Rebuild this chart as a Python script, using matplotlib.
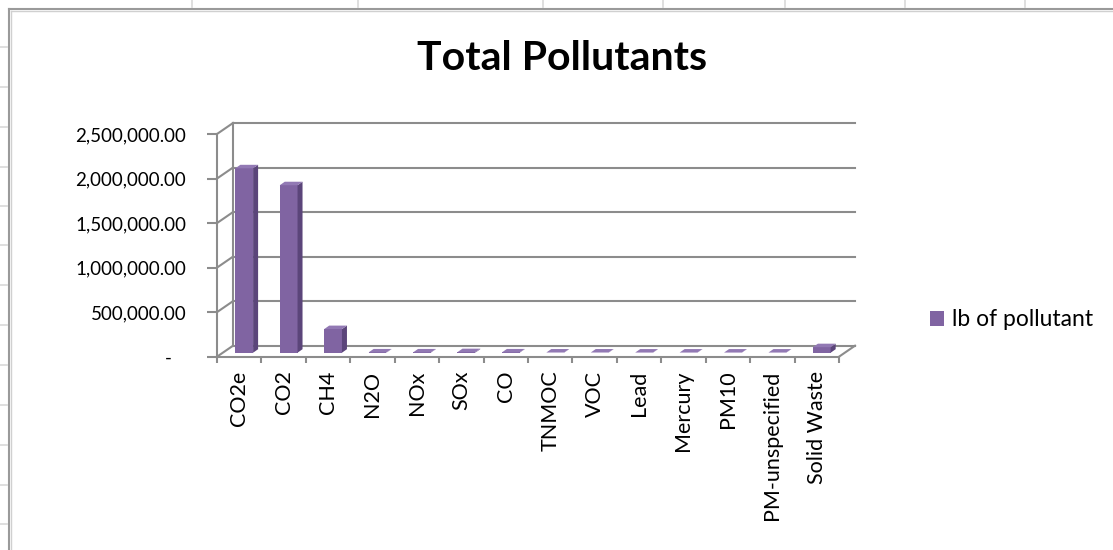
import numpy as np
import matplotlib.pyplot as plt
from matplotlib.patches import Polygon
from matplotlib.lines import Line2D
from matplotlib.ticker import FuncFormatter

plt.rcParams['font.family'] = ['Lato', 'DejaVu Sans']

# ---------- data ----------
categories = ["CO2e", "CO2", "CH4", "N2O", "NOx", "SOx", "CO", "TNMOC",
              "VOC", "Lead", "Mercury", "PM10", "PM-unspecified", "Solid Waste"]
pollutant_lb = [2070000, 1880000, 265000, 3000, 3000, 6000, 3000, 2000,
                2000, 1500, 1500, 1500, 1500, 62000]
series_name = "lb of pollutant"
y_ticks = [0, 500000, 1000000, 1500000, 2000000, 2500000]

# ---------- style ----------
W, H = 1113, 550
FRONT = '#8064A2'
SIDE = '#5B457A'
TOP = '#9279B4'
GRID = '#8C8C8C'
SHEET = '#D9D9D9'

fig = plt.figure(figsize=(W / 100, H / 100), dpi=100)
ax = fig.add_axes([217 / W, (H - 356.7) / H, 622 / W, 222.7 / H])
ax.set_xlim(-0.5, len(categories) - 0.5)
ax.set_ylim(0, 2500000)
ax.patch.set_visible(False)


def px_to_data(dx, dy):
    # pixel offset -> data offset (linear scales)
    x0, y0 = ax.transData.inverted().transform((0, 0))
    x1, y1 = ax.transData.inverted().transform((dx, dy))
    return x1 - x0, y1 - y0


Dx, Dy = px_to_data(16, 11)     # back wall depth
Fx, Fy = px_to_data(5, 4)       # bar front face position
Bx, By = px_to_data(5, 3.5)     # bar depth

xl, xr = ax.get_xlim()
line_kw = dict(color=GRID, lw=1.5, clip_on=False, zorder=1)

# back wall gridlines + left wall diagonals
for y in y_ticks:
    ax.plot([xl + Dx, xr + Dx], [y + Dy, y + Dy], **line_kw)
    ax.plot([xl, xl + Dx], [y, y + Dy], **line_kw)
ax.plot([xl + Dx, xl + Dx], [Dy, y_ticks[-1] + Dy], **line_kw)
ax.plot([xr, xr + Dx], [0, Dy], **line_kw)

# bars
x = np.arange(len(categories))
bw = 0.4
bars = ax.bar(x + Fx, pollutant_lb, width=bw, bottom=Fy, color=FRONT,
              edgecolor='none', zorder=3, label=series_name)
for xi, v in zip(x, pollutant_lb):
    x0, x1 = xi + Fx - bw / 2, xi + Fx + bw / 2
    y0, y1 = Fy, Fy + v
    ax.add_patch(Polygon([(x1, y0), (x1 + Bx, y0 + By), (x1 + Bx, y1 + By), (x1, y1)],
                         closed=True, facecolor=SIDE, edgecolor='none', zorder=3))
    ax.add_patch(Polygon([(x0, y1), (x1, y1), (x1 + Bx, y1 + By), (x0 + Bx, y1 + By)],
                         closed=True, facecolor=TOP, edgecolor='none', zorder=3))

# front axes
for s in ['top', 'right']:
    ax.spines[s].set_visible(False)
for s in ['left', 'bottom']:
    ax.spines[s].set_color(GRID)
    ax.spines[s].set_linewidth(1.5)
    ax.spines[s].set_zorder(4)

ax.set_yticks(y_ticks)
ax.yaxis.set_major_formatter(FuncFormatter(lambda v, p: '-   ' if v == 0 else f'{v:,.2f}'))
ax.tick_params(axis='y', length=7.2, width=1.5, color=GRID, pad=15, labelsize=13.5)

ax.set_xticks(x)
ax.set_xticklabels(categories, rotation=90)
ax.set_xticks(np.arange(-0.5, len(categories), 1), minor=True)
ax.tick_params(axis='x', which='major', length=0, pad=10, labelsize=15.5)
ax.tick_params(axis='x', which='minor', length=4.5, width=1.5, color=GRID)

# title and legend
fig.text(562 / W, 1 - 58 / H, "Total Pollutants", ha='center', va='center',
         fontsize=29.5, fontweight='bold')
ax.legend(loc='center left', bbox_to_anchor=(930 / W, 1 - 320 / H),
          bbox_transform=fig.transFigure, frameon=False, fontsize=16.5,
          handlelength=0.62, handleheight=0.62, handletextpad=0.35,
          borderaxespad=0, borderpad=0)

# chart border and sheet grid behind it
for gx in [192, 358, 543, 663, 785, 905, 1025]:
    fig.add_artist(Line2D([gx / W, gx / W], [1, 1 - 7 / H], color=SHEET, lw=1.2))
for gy in [47, 87, 127, 167, 206, 245, 285, 325, 365, 405, 445, 485, 524]:
    fig.add_artist(Line2D([0, 7 / W], [1 - gy / H, 1 - gy / H], color=SHEET, lw=1.2))
fig.add_artist(Line2D([8.5 / W, 1], [1 - 8.5 / H, 1 - 8.5 / H], color='#9A9A9A', lw=1.5))
fig.add_artist(Line2D([8.5 / W, 8.5 / W], [0, 1 - 8.5 / H], color='#9A9A9A', lw=1.5))
fig.add_artist(Line2D([10.5 / W, 1], [1 - 10.5 / H, 1 - 10.5 / H], color='#D0D0D0', lw=1))
fig.add_artist(Line2D([10.5 / W, 10.5 / W], [0, 1 - 10.5 / H], color='#D0D0D0', lw=1))

fig.savefig('out.png', dpi=100)
